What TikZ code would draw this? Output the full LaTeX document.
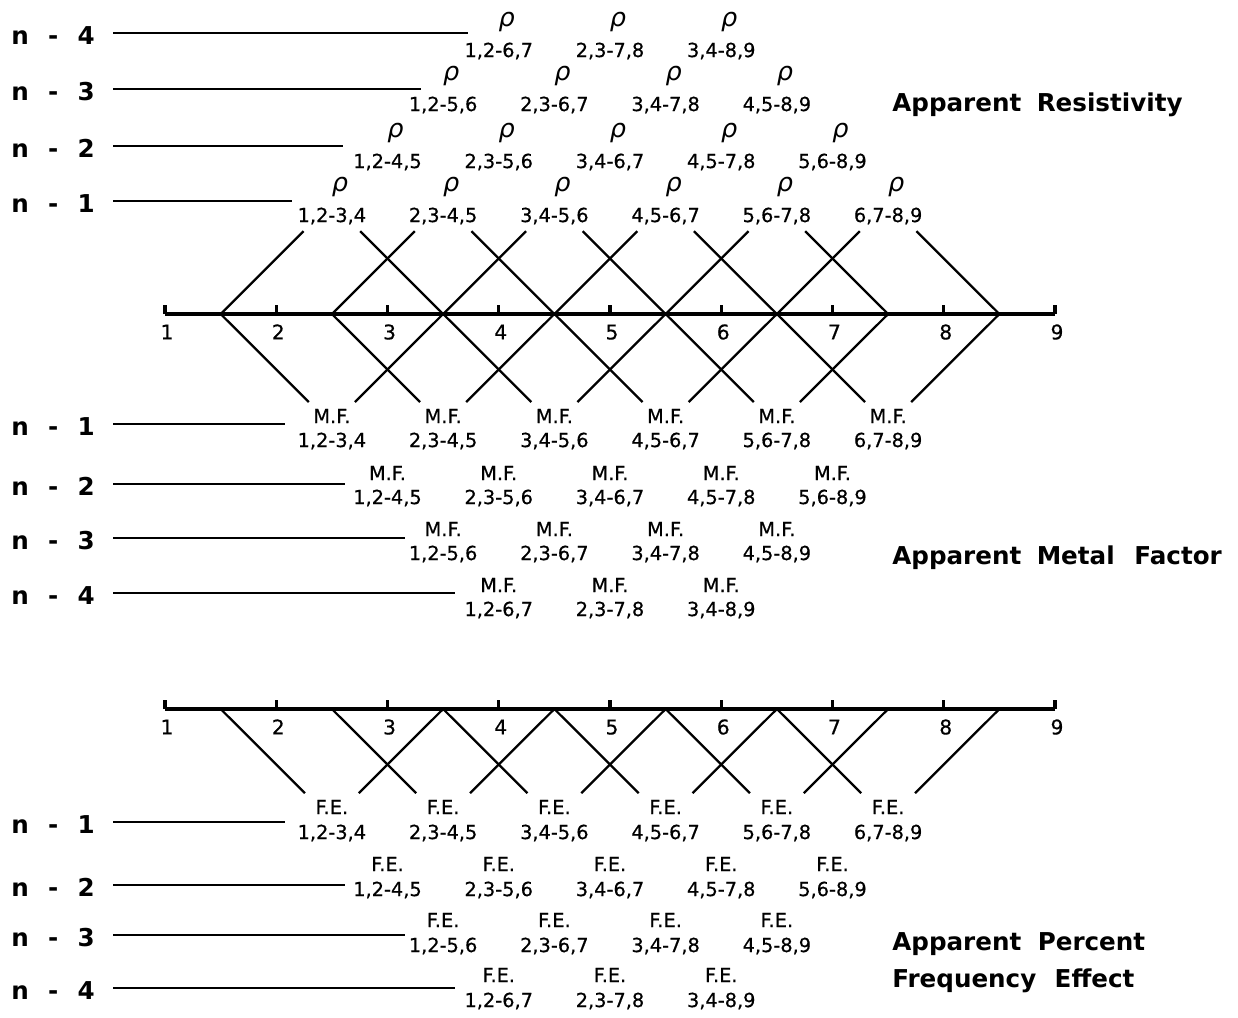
\documentclass[tikz,border=0pt]{standalone}
\usepackage{fontspec}
\setmainfont{DejaVu Sans}
\newfontfamily\labfont{DejaVu Sans}[FakeBold=0.5]
\usetikzlibrary{calc}
\begin{document}
\begin{tikzpicture}[x=0.02cm,y=-0.02cm,
  axisline/.style={line width=1.9pt},
  conn/.style={line width=1.3pt},
  rowline/.style={line width=1.2pt},
  lab/.style={font=\labfont\fontsize{11}{13}\selectfont, inner sep=0pt, text height=8pt, text depth=0pt},
  rho/.style={font=\itshape\fontsize{14.5}{16}\selectfont, inner sep=0pt, text height=7pt, text depth=3.5pt},
  axnum/.style={font=\labfont\fontsize{11.5}{13}\selectfont, inner sep=0pt, text height=8.4pt, text depth=0pt},
  rowlab/.style={font=\bfseries\fontsize{14}{16}\selectfont, anchor=west, inner sep=0pt, text height=10.2pt, text depth=0pt},
  head/.style={font=\bfseries\fontsize{14}{16}\selectfont, anchor=west, inner sep=0pt, text height=10.2pt, text depth=0pt}]
\useasboundingbox (0,0) rectangle (1238,1018);
\fill[white] (0,0) rectangle (1238,1018);

% ---------- upper axis ----------
\coordinate (ta-l) at (165,314);
\coordinate (ta-r) at (1055,314);
\draw[axisline] (ta-l) -- (ta-r);
\foreach \e in {1,...,9} {
  \coordinate (tt\e) at ({165+(\e-1)*111.25},314);
  \draw[axisline] (tt\e) -- ++(0,-9);
  \node[axnum] (tn\e) at ({165+(\e-1)*111.25+2},332) {\e};
}
\foreach \k in {1,...,8} {
  \coordinate (tm\k) at ({165+(\k-0.5)*111.25},314);
}
\foreach \j in {1,...,6} {
  \coordinate (tc\j) at ({165+(\j+0.5)*111.25},203);
  \coordinate (bc\j) at ({165+(\j+0.5)*111.25},425);
}
% connectors up (resistivity) and down (metal factor)
\foreach \k in {1,...,6} {
  \draw[conn, shorten >=0.8cm] (tm\k) -- (tc\k);
  \draw[conn, shorten >=0.65cm] (tm\k) -- (bc\k);
}
\foreach \k in {3,...,8} {
  \pgfmathtruncatemacro\j{\k-2}
  \draw[conn, shorten >=0.8cm] (tm\k) -- (tc\j);
  \draw[conn, shorten >=0.65cm] (tm\k) -- (bc\j);
}

% ---------- resistivity rows ----------
\foreach \n/\ny/\ly/\lx in {1/215/201/292, 2/161/146/343, 3/104/89/421, 4/50/33/468} {
  \coordinate (rs\n) at (113,\ly);
  \coordinate (re\n) at (\lx,\ly);
  \draw[rowline] (rs\n) -- (re\n);
  \node[rowlab] (rl\n) at (11,\ly+3) {n\hspace{11pt}-\hspace{11pt}\n};
  \pgfmathtruncatemacro\imax{7-\n}
  \foreach \i in {1,...,\imax} {
    \pgfmathsetmacro\xx{165+(\i+\n/2)*111.25}
    \pgfmathtruncatemacro\a{\i+1}
    \pgfmathtruncatemacro\b{\i+\n+1}
    \pgfmathtruncatemacro\c{\i+\n+2}
    \node[lab] (R\n-\i) at (\xx,\ny) {\i,\a-\b,\c};
    \node[rho] (Rr\n-\i) at (\xx+8,\ny-27) {ρ};
  }
}
\node[head] (hres) at (892,103) {\makebox[82.2pt][l]{Apparent }Resistivity};

% ---------- metal factor rows ----------
\foreach \n/\ny/\ly/\lx in {1/440/424/285, 2/497/484/345, 3/553/538/405, 4/609/593/455} {
  \coordinate (ms\n) at (113,\ly);
  \coordinate (me\n) at (\lx,\ly);
  \draw[rowline] (ms\n) -- (me\n);
  \node[rowlab] (ml\n) at (11,\ly+3) {n\hspace{11pt}-\hspace{11pt}\n};
  \pgfmathtruncatemacro\imax{7-\n}
  \foreach \i in {1,...,\imax} {
    \pgfmathsetmacro\xx{165+(\i+\n/2)*111.25}
    \pgfmathtruncatemacro\a{\i+1}
    \pgfmathtruncatemacro\b{\i+\n+1}
    \pgfmathtruncatemacro\c{\i+\n+2}
    \node[lab] (M\n-\i) at (\xx,\ny) {\i,\a-\b,\c};
    \node[lab] (Mm\n-\i) at (\xx,\ny-24) {M.F.};
  }
}
\node[head] (hmf) at (892,556) {\makebox[82.2pt][l]{Apparent }\makebox[55.6pt][l]{Metal }Factor};

% ---------- lower axis ----------
\coordinate (ba-l) at (165,709);
\coordinate (ba-r) at (1055,709);
\draw[axisline] (ba-l) -- (ba-r);
\foreach \e in {1,...,9} {
  \coordinate (bt\e) at ({165+(\e-1)*111.25},709);
  \draw[axisline] (bt\e) -- ++(0,-9);
  \node[axnum] (bn\e) at ({165+(\e-1)*111.25+2},727) {\e};
}
\foreach \k in {1,...,8} {
  \coordinate (bm\k) at ({165+(\k-0.5)*111.25},709);
}
\foreach \j in {1,...,6} {
  \coordinate (fc\j) at ({165+(\j+0.5)*111.25},820);
}
\foreach \k in {1,...,6} {
  \draw[conn, shorten >=0.76cm] (bm\k) -- (fc\k);
}
\foreach \k in {3,...,8} {
  \pgfmathtruncatemacro\j{\k-2}
  \draw[conn, shorten >=0.76cm] (bm\k) -- (fc\j);
}

% ---------- frequency effect rows ----------
\foreach \n/\ny/\ly/\lx in {1/832/822/285, 2/889/885/345, 3/945/935/405, 4/1000/988/455} {
  \coordinate (fs\n) at (113,\ly);
  \coordinate (fe\n) at (\lx,\ly);
  \draw[rowline] (fs\n) -- (fe\n);
  \node[rowlab] (fl\n) at (11,\ly+3) {n\hspace{11pt}-\hspace{11pt}\n};
  \pgfmathtruncatemacro\imax{7-\n}
  \foreach \i in {1,...,\imax} {
    \pgfmathsetmacro\xx{165+(\i+\n/2)*111.25}
    \pgfmathtruncatemacro\a{\i+1}
    \pgfmathtruncatemacro\b{\i+\n+1}
    \pgfmathtruncatemacro\c{\i+\n+2}
    \node[lab] (F\n-\i) at (\xx,\ny) {\i,\a-\b,\c};
    \node[lab] (Ff\n-\i) at (\xx,\ny-25) {F.E.};
  }
}
\node[head] (hfe1) at (892,942) {\makebox[82.8pt][l]{Apparent }Percent};
\node[head] (hfe2) at (892,979) {\makebox[92.4pt][l]{Frequency }Effect};
\end{tikzpicture}
\end{document}
